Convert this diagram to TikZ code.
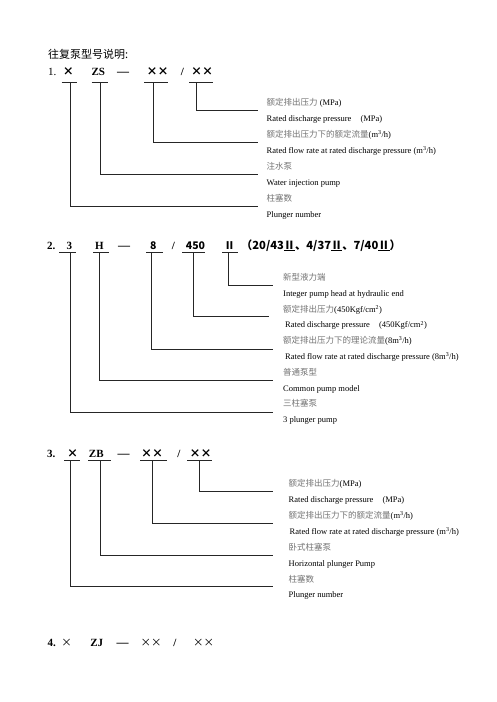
\documentclass[tikz,border=0pt]{standalone}
\usepackage{fontspec}
\setmainfont{Liberation Serif}
\newfontfamily\cjk{Noto Sans CJK SC}
\newcommand\zhtxt[1]{{\cjk\color{black!55}#1}}
\begin{document}
\begin{tikzpicture}[x=1pt,y=-1pt,
  hd/.style={anchor=base, inner sep=0, font=\fontsize{11}{13}\selectfont\bfseries},
  hdw/.style={hd, anchor=base west},
  xx/.style={anchor=base, inner sep=0, font=\cjk\bfseries\fontsize{11}{13}\selectfont},
  lab/.style={anchor=base west, inner sep=0, font=\fontsize{8.5}{10}\selectfont},
  ul/.style={line width=0.8pt, draw=black!85},
  conn/.style={line width=0.8pt, draw=black!85}]
\useasboundingbox (0,0) rectangle (496,702);
\fill[white] (0,0) rectangle (496,702);

% title
\node[anchor=base west, inner sep=0, font=\cjk\fontsize{11}{13}\selectfont] (title) at (48,58) {往复泵型号说明:};

% ---------------- section 1
\node[hdw, font=\fontsize{11}{13}\selectfont] (s1n) at (48,75) {1.};
\node[xx] (s1a) at (68.3,75) {×};
\node[hd] (s1b) at (98.3,75) {ZS};
\node[hd, font=\fontsize{12}{13}\selectfont\bfseries] (s1c) at (123,75) {—};
\node[xx] (s1d) at (157.5,75) {××};
\node[hd] (s1e) at (182.5,75) {/};
\node[xx] (s1f) at (202.2,75) {××};
\draw[ul] (61.7,82.7) -- (76.7,82.7);
\draw[ul] (91.7,82.7) -- (108.3,82.7);
\draw[ul] (144,82.7) -- (168,82.7);
\draw[ul] (189,82.7) -- (212.7,82.7);
\coordinate (u1a) at (70,82.7);
\coordinate (u1b) at (100,82.7);
\coordinate (u1d) at (153.3,82.7);
\coordinate (u1f) at (196.7,82.7);
\coordinate (e1f) at (258,110);
\coordinate (e1d) at (258,142);
\coordinate (e1b) at (258,174);
\coordinate (e1a) at (258,206);
\draw[conn] (u1f) |- (e1f);
\draw[conn] (u1d) |- (e1d);
\draw[conn] (u1b) |- (e1b);
\draw[conn] (u1a) |- (e1a);
\node[lab] (t10) at (266.5,105.5) {\zhtxt{额定排出压力} (MPa)};
\node[lab] (t11) at (266.5,121.5) {Rated discharge pressure\hspace{9pt}(MPa)};
\node[lab] (t12) at (266.5,137.5) {\zhtxt{额定排出压力下的额定流量}(m\textsuperscript{3}/h)};
\node[lab] (t13) at (266.5,153.5) {Rated flow rate at rated discharge pressure (m\textsuperscript{3}/h)};
\node[lab] (t14) at (266.5,169.5) {\zhtxt{注水泵}};
\node[lab] (t15) at (266.5,185.5) {Water injection pump};
\node[lab] (t16) at (266.5,201.5) {\zhtxt{柱塞数}};
\node[lab] (t17) at (266.5,217.5) {Plunger number};

% ---------------- section 2
\node[hdw] (s2n) at (47,249) {2.};
\node[hd] (s2a) at (69.3,249) {3};
\node[hd] (s2b) at (99.3,249) {H};
\node[hd, font=\fontsize{12}{13}\selectfont\bfseries] (s2c) at (124,249) {—};
\node[hd, font=\cjk\bfseries\fontsize{10.5}{13}\selectfont] (s2d) at (153.3,249) {8};
\node[hd] (s2e) at (173.3,249) {/};
\node[hd, font=\cjk\bfseries\fontsize{10.5}{13}\selectfont] (s2f) at (195.5,249) {450};
\node[hd, font=\cjk\bfseries\fontsize{10.5}{13}\selectfont] (s2g) at (229.5,249) {Ⅱ};
\node[anchor=base west, inner sep=0, font=\cjk\bfseries\fontsize{11.2}{13}\selectfont] (s2h) at (241,249)
  {（20/43\underline{Ⅱ}、4/37\underline{Ⅱ}、7/40\underline{Ⅱ}）};
\draw[ul] (59,252.7) -- (76,252.7);
\draw[ul] (93,252.7) -- (109,252.7);
\draw[ul] (146,252.7) -- (163,252.7);
\draw[ul] (182,252.7) -- (205,252.7);
\draw[ul] (222,252.7) -- (238.3,252.7);
\coordinate (u2a) at (70.7,252.7);
\coordinate (u2b) at (99.3,252.7);
\coordinate (u2d) at (151.7,252.7);
\coordinate (u2f) at (193.3,252.7);
\coordinate (u2g) at (228.3,252.7);
\coordinate (e2g) at (273,285);
\coordinate (e2f) at (269,316.7);
\coordinate (e2d) at (273,349);
\coordinate (e2b) at (273,380);
\coordinate (e2a) at (273,412.3);
\draw[conn] (u2g) |- (e2g);
\draw[conn] (u2f) |- (e2f);
\draw[conn] (u2d) |- (e2d);
\draw[conn] (u2b) |- (e2b);
\draw[conn] (u2a) |- (e2a);
\node[lab] (t20) at (283,280.5) {\zhtxt{新型液力端}};
\node[lab] (t21) at (283,296.3) {Integer pump head at hydraulic end};
\node[lab] (t22) at (283,312.1) {\zhtxt{额定排出压力}(450Kgf/cm\textsuperscript{2})};
\node[lab] (t23) at (285,327.9) {Rated discharge pressure\hspace{9pt}(450Kgf/cm\textsuperscript{2})};
\node[lab] (t24) at (283,343.7) {\zhtxt{额定排出压力下的理论流量}(8m\textsuperscript{3}/h)};
\node[lab] (t25) at (285,359.5) {Rated flow rate at rated discharge pressure (8m\textsuperscript{3}/h)};
\node[lab] (t26) at (283,375.3) {\zhtxt{普通泵型}};
\node[lab] (t27) at (283,391.1) {Common pump model};
\node[lab] (t28) at (283,406.9) {\zhtxt{三柱塞泵}};
\node[lab] (t29) at (283,422.7) {3 plunger pump};

% ---------------- section 3
\node[hdw] (s3n) at (47,457) {3.};
\node[xx] (s3a) at (72.7,457) {×};
\node[hd] (s3b) at (96.3,457) {ZB};
\node[hd, font=\fontsize{12}{13}\selectfont\bfseries] (s3c) at (123.5,457) {—};
\node[xx] (s3d) at (152,457) {××};
\node[hd] (s3e) at (179,457) {/};
\node[xx] (s3f) at (200.5,457) {××};
\draw[ul] (64,460) -- (80,460);
\draw[ul] (88,460) -- (111,460);
\draw[ul] (140,460) -- (167,460);
\draw[ul] (187,460) -- (212,460);
\coordinate (u3a) at (70.7,460);
\coordinate (u3b) at (100,460);
\coordinate (u3d) at (152.7,460);
\coordinate (u3f) at (199,460);
\coordinate (e3f) at (273,491.7);
\coordinate (e3d) at (273,523.3);
\coordinate (e3b) at (273,555);
\coordinate (e3a) at (273,586.7);
\draw[conn] (u3f) |- (e3f);
\draw[conn] (u3d) |- (e3d);
\draw[conn] (u3b) |- (e3b);
\draw[conn] (u3a) |- (e3a);
\node[lab] (t30) at (288.5,486.3) {\zhtxt{额定排出压力}(MPa)};
\node[lab] (t31) at (288.5,502.2) {Rated discharge pressure\hspace{9pt}(MPa)};
\node[lab] (t32) at (288.5,518.2) {\zhtxt{额定排出压力下的额定流量}(m\textsuperscript{3}/h)};
\node[lab] (t33) at (289.5,534.1) {Rated flow rate at rated discharge pressure (m\textsuperscript{3}/h)};
\node[lab] (t34) at (288.5,550.1) {\zhtxt{卧式柱塞泵}};
\node[lab] (t35) at (288.5,566.0) {Horizontal plunger Pump};
\node[lab] (t36) at (288.5,582.0) {\zhtxt{柱塞数}};
\node[lab] (t37) at (288.5,597.9) {Plunger number};

% ---------------- section 4
\node[hdw] (s4n) at (47.3,646) {4.};
\node[xx, font=\cjk\fontsize{10.5}{12}\selectfont] (s4a) at (66.7,646) {×};
\node[hd] (s4b) at (96.7,646) {ZJ};
\node[hd, font=\fontsize{12}{13}\selectfont\bfseries] (s4c) at (122.5,646) {—};
\node[xx, font=\cjk\fontsize{10.5}{12}\selectfont] (s4d) at (151,646) {××};
\node[hd] (s4e) at (175,646) {/};
\node[xx, font=\cjk\fontsize{10.5}{12}\selectfont] (s4f) at (203.7,646) {××};
\end{tikzpicture}
\end{document}
